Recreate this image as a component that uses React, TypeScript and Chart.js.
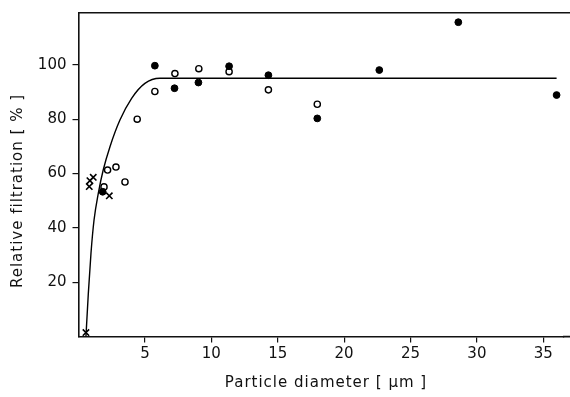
import React, { useEffect, useRef } from "react";
import { Chart, registerables } from "chart.js";

Chart.register(...registerables);

const xTitle = "Particle diameter [ µm ]";
const yTitle = "Relative filtration [ % ]";

const xTickValues = [5, 10, 15, 20, 25, 30, 35];
const yTickValues = [20, 40, 60, 80, 100];

const filledX = [1.82, 5.75, 7.23, 9.03, 11.34, 14.3, 17.98, 22.65, 28.6, 36.0];
const filledY = [53.3, 99.7, 91.4, 93.5, 99.5, 96.2, 80.3, 98.1, 115.7, 88.9];

const openX = [1.92, 2.19, 2.82, 3.5, 4.42, 5.75, 7.26, 9.06, 11.34, 14.3, 17.98];
const openY = [55.1, 61.3, 62.4, 56.9, 80.0, 90.2, 96.8, 98.6, 97.5, 90.8, 85.5];

const crossX = [0.56, 0.81, 0.86, 1.11, 2.32];
const crossY = [1.5, 55.2, 57.4, 58.6, 51.8];

const curveX = [0.56, 0.74, 0.94, 1.17, 1.49, 1.86, 2.37, 3.12, 4.0, 5.0, 6.13, 36.0];
const curveY = [0, 15.9, 30.7, 42.9, 52.7, 61.3, 69.9, 79.7, 87.7, 93.2, 95.1, 95.1];

const toPoints = (xs: number[], ys: number[]) => xs.map((x, i) => ({ x, y: ys[i] }));

const FONT = "'DejaVu Sans', 'Liberation Sans', sans-serif";

const framePlugin = {
  id: "frameAndTitles",
  afterDraw(chart: any) {
    const { ctx, chartArea } = chart;
    ctx.save();
    ctx.strokeStyle = "#111";
    ctx.lineWidth = 1.6;
    ctx.beginPath();
    ctx.moveTo(chartArea.left, chartArea.top);
    ctx.lineTo(chart.width, chartArea.top);
    ctx.moveTo(chartArea.right - 1, chartArea.bottom);
    ctx.lineTo(chart.width, chartArea.bottom);
    ctx.stroke();

    ctx.fillStyle = "#111";
    ctx.font = `15px ${FONT}`;
    try {
      (ctx as any).letterSpacing = "1px";
    } catch (e) {}
    ctx.textAlign = "center";
    ctx.textBaseline = "middle";
    ctx.fillText(xTitle, 326, 383);

    ctx.translate(18, 191);
    ctx.rotate(-Math.PI / 2);
    ctx.fillText(yTitle, 0, 0);
    ctx.restore();
  },
};

export default function App() {
  const canvasRef = useRef<HTMLCanvasElement | null>(null);

  useEffect(() => {
    document.body.style.margin = "0";
    const canvas = canvasRef.current;
    if (!canvas) return;
    const chart = new Chart(canvas, {
      type: "scatter",
      data: {
        datasets: [
          {
            label: "filled",
            data: toPoints(filledX, filledY),
            pointStyle: "circle",
            pointRadius: 3.4,
            backgroundColor: "#000",
            borderColor: "#000",
            borderWidth: 1,
          },
          {
            label: "open",
            data: toPoints(openX, openY),
            pointStyle: "circle",
            pointRadius: 3.1,
            backgroundColor: "#fff",
            borderColor: "#000",
            borderWidth: 1.4,
          },
          {
            label: "cross",
            data: toPoints(crossX, crossY),
            pointStyle: "crossRot",
            pointRadius: 4.5,
            backgroundColor: "#000",
            borderColor: "#000",
            borderWidth: 1.6,
          },
          {
            type: "line",
            label: "fit",
            data: toPoints(curveX, curveY),
            showLine: true,
            pointRadius: 0,
            borderColor: "#000",
            borderWidth: 1.4,
            cubicInterpolationMode: "monotone",
            fill: false,
          } as any,
        ],
      },
      options: {
        animation: false,
        responsive: false,
        maintainAspectRatio: false,
        layout: { padding: { top: 12.7, right: 0, left: 0, bottom: 0 } },
        plugins: {
          legend: { display: false },
          tooltip: { enabled: false },
          title: { display: false },
        },
        scales: {
          x: {
            type: "linear",
            min: 0,
            max: 36.55,
            afterFit: (scale: any) => {
              scale.height = 397 - 336.6;
              scale.paddingLeft = 0;
              scale.paddingRight = 0;
            },
            afterBuildTicks: (scale: any) => {
              scale.ticks = xTickValues.map((v) => ({ value: v }));
            },
            grid: {
              display: true,
              drawOnChartArea: false,
              drawTicks: true,
              tickLength: 6,
              color: "#111",
              lineWidth: 1.2,
            },
            border: { display: true, color: "#111", width: 1.6 },
            ticks: {
              color: "#111",
              font: { family: FONT, size: 15 },
              padding: 3,
              maxRotation: 0,
              autoSkip: false,
            },
          },
          y: {
            type: "linear",
            min: 0,
            max: 119.2,
            afterFit: (scale: any) => {
              scale.width = 78.5;
              scale.paddingTop = 0;
              scale.paddingBottom = 0;
            },
            afterBuildTicks: (scale: any) => {
              scale.ticks = yTickValues.map((v) => ({ value: v }));
            },
            grid: {
              display: true,
              drawOnChartArea: false,
              drawTicks: true,
              tickLength: 6,
              color: "#111",
              lineWidth: 1.2,
            },
            border: { display: true, color: "#111", width: 1.6 },
            ticks: {
              color: "#111",
              font: { family: FONT, size: 15 },
              padding: 6,
              autoSkip: false,
            },
          },
        },
      },
      plugins: [framePlugin],
    });
    return () => chart.destroy();
  }, []);

  return (
    <div style={{ width: 570, height: 397, background: "#fff" }}>
      <canvas ref={canvasRef} width={570} height={397} style={{ width: 570, height: 397, display: "block" }} />
    </div>
  );
}
